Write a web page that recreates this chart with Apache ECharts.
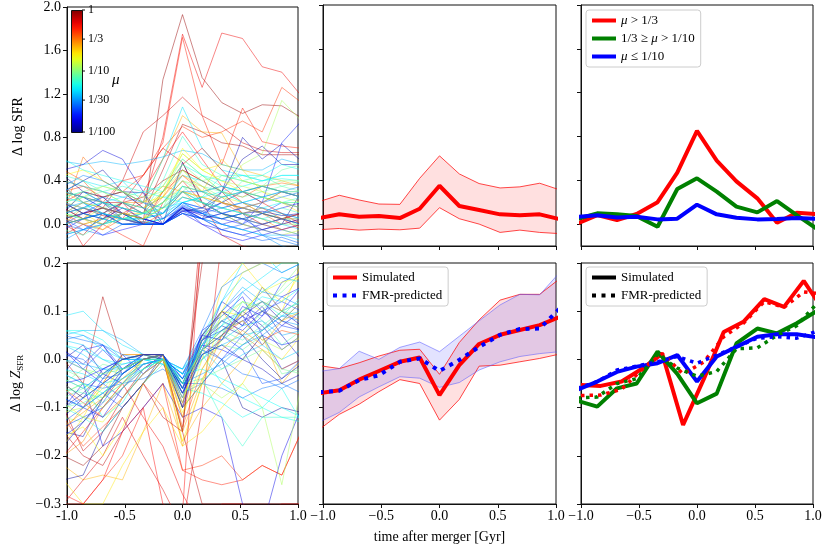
<!DOCTYPE html>
<html><head><meta charset="utf-8">
<script src="https://cdn.jsdelivr.net/npm/echarts@6/dist/echarts.min.js"></script>
<style>html,body{margin:0;padding:0;background:#fff}#c{width:830px;height:554px}</style>
</head><body><div id="c"></div>
<script>
const FONT = 'Liberation Serif';

// time grid (Gyr after merger)
const times    = [-1.03, -0.86, -0.69, -0.52, -0.34, -0.17, 0.0, 0.17, 0.34, 0.52, 0.69, 0.86, 1.03];
const timesRed = [-1.00, -0.83, -0.65, -0.47, -0.30, -0.12, 0.06, 0.23, 0.40, 0.58, 0.75, 0.92, 1.10];

// tick labels
const xLabelsHyphen = ['-1.0', '-0.5', '0.0', '0.5', '1.0'];
const xLabelsMinus  = ['\u22121.0', '\u22120.5', '0.0', '0.5', '1.0'];
const sfrTicks = [0.0, 0.4, 0.8, 1.2, 1.6, 2.0];
const sfrTickLabels = ['0.0', '0.4', '0.8', '1.2', '1.6', '2.0'];
const zTicks = [-0.3, -0.2, -0.1, 0.0, 0.1, 0.2];
const zTickLabels = ['\u22120.3', '\u22120.2', '\u22120.1', '0.0', '0.1', '0.2'];
const cbarTicks = [1, 1/3, 1/10, 1/30, 1/100];
const cbarLabels = ['1', '1/3', '1/10', '1/30', '1/100'];

// individual galaxies: mass ratio mu and Delta log SFR
const sfrMu = [0.9,0.6,0.5,0.45,0.7,0.8,0.55,0.65,0.4,0.35,0.25,0.2,0.12,0.05,0.04,0.07,0.015,0.013,0.02,0.011,0.025,0.03,0.06,0.09,0.1,0.15,0.3,0.018,0.03,0.045,0.055,0.08,0.011,0.035,0.14,0.5,0.75,0.22,0.012,0.028,0.065,0.38,0.02,0.045,0.11,0.6,
  0.012,0.016,0.019,0.024,0.033,0.038,0.042,0.05,0.058,0.07,0.075,0.085,0.095,0.13,0.16,0.18,0.028,0.014,0.06,0.032,0.027,0.1,0.28,0.045];
const sfrLines = [
 [0.10,0.15,0.08,0.05,0.02,1.33,1.93,1.35,1.12,1.02,1.10,1.09,0.98],
 [0.20,0.30,0.25,0.10,0.20,0.80,1.75,1.26,1.76,1.71,1.45,1.40,1.18],
 [0.00,0.05,0.20,0.40,0.45,0.75,1.72,1.00,0.55,1.07,0.76,0.72,0.70],
 [0.30,0.35,0.25,0.30,0.45,0.70,0.90,0.80,0.85,0.95,0.85,1.26,1.12],
 [0.05,0.10,0.15,0.40,0.85,1.00,1.17,1.00,0.90,0.75,0.68,0.66,0.66],
 [0.00,-0.10,0.10,0.20,0.10,0.50,0.92,0.85,0.75,0.72,0.64,0.64,0.64],
 [0.20,0.10,0.15,0.05,0.30,0.60,0.85,0.60,0.35,0.20,0.10,0.05,-0.05],
 [-0.10,0.00,0.05,0.20,0.45,0.70,0.57,0.20,-0.10,-0.20,-0.25,-0.30,-0.30],
 [0.50,0.40,0.20,0.15,0.10,0.30,0.45,0.30,0.20,0.15,0.10,0.00,0.05],
 [0.10,0.62,0.40,0.30,0.15,0.25,0.50,0.40,0.30,0.25,0.35,0.38,0.35],
 [0.30,0.20,0.25,0.30,0.20,0.60,1.00,0.85,0.84,0.50,0.45,0.40,0.35],
 [0.20,0.10,0.00,0.10,0.05,0.30,0.65,0.50,0.55,0.50,0.30,0.20,0.10],
 [0.15,0.25,0.20,0.15,0.10,0.30,0.60,0.45,0.30,0.55,0.65,1.14,0.95],
 [0.30,0.40,0.35,0.40,0.20,0.60,1.08,0.70,0.50,0.45,0.40,0.45,0.45],
 [0.58,0.55,0.58,0.55,0.58,0.62,0.68,0.65,0.55,0.50,0.50,0.60,0.55],
 [0.20,0.25,0.15,0.05,0.10,0.40,0.81,0.55,0.45,0.40,0.35,0.30,0.25],
 [0.50,0.55,0.68,0.60,0.30,0.05,0.15,0.10,0.00,-0.05,0.00,0.05,0.10],
 [0.10,0.30,0.20,0.05,0.00,0.00,0.15,0.05,0.30,0.80,0.60,0.74,0.58],
 [0.00,0.10,0.20,0.10,0.00,0.00,0.17,0.10,0.05,0.00,0.20,0.75,0.95],
 [0.45,0.30,0.25,0.30,0.29,0.00,0.57,0.20,0.10,0.00,-0.05,0.00,0.30],
 [0.35,0.20,0.10,0.05,0.00,0.00,0.12,0.05,-0.05,0.00,0.10,0.20,0.15],
 [-0.10,-0.05,0.05,0.10,0.00,0.00,0.18,0.12,0.05,0.10,-0.10,-0.15,-0.20],
 [0.10,0.05,0.10,0.05,0.02,0.05,0.25,0.20,0.15,0.10,0.05,0.10,0.05],
 [0.05,0.15,0.20,0.10,0.05,0.20,0.40,0.30,0.35,0.30,0.35,0.50,0.55],
 [0.35,0.20,0.15,0.20,0.15,0.25,0.30,0.45,0.30,0.20,0.15,0.10,-0.05],
 [0.40,0.35,0.30,0.20,0.15,0.30,0.50,0.30,0.25,0.20,0.10,0.05,0.00],
 [0.00,0.15,0.10,0.20,0.20,0.35,0.30,0.15,0.25,0.10,0.05,-0.05,-0.10],
 [0.05,0.00,-0.10,-0.05,0.00,0.00,0.10,0.00,-0.10,-0.15,-0.10,-0.05,0.00],
 [0.20,0.10,0.05,0.00,0.00,0.05,0.20,0.15,0.25,0.30,0.20,0.25,0.30],
 [0.00,0.05,0.00,0.05,0.05,0.10,0.30,0.20,0.10,0.05,0.00,-0.05,-0.10],
 [0.25,0.30,0.20,0.15,0.10,0.15,0.20,0.10,0.05,0.10,0.15,0.20,0.20],
 [-0.05,-0.10,0.00,0.10,0.05,0.10,0.35,0.30,0.20,0.40,0.45,0.35,0.40],
 [0.15,0.05,0.10,0.00,0.02,0.00,0.13,0.12,0.20,0.30,0.35,0.30,0.25],
 [-0.15,-0.05,0.05,0.00,0.00,0.00,0.16,0.10,0.00,-0.05,-0.10,-0.20,-0.25],
 [0.10,0.05,0.15,0.10,0.05,0.15,0.25,0.20,0.10,0.00,-0.05,-0.10,-0.05],
 [0.15,0.05,0.00,-0.10,-0.20,0.20,0.40,0.20,0.10,0.05,0.00,-0.05,0.00],
 [0.30,0.25,0.20,0.20,0.25,0.40,0.50,0.40,0.30,0.10,0.00,0.05,0.10],
 [0.00,0.05,-0.05,0.10,0.10,0.20,0.35,0.30,0.60,0.40,0.35,0.30,0.30],
 [0.30,0.40,0.50,0.30,0.15,0.00,0.12,0.15,0.30,0.60,0.72,0.55,0.55],
 [0.00,-0.05,0.00,0.10,0.05,0.00,0.14,0.05,0.10,0.15,0.10,0.05,0.05],
 [0.05,0.10,0.05,0.00,0.00,0.05,0.20,0.25,0.45,0.45,0.40,0.42,0.40],
 [0.10,0.00,-0.05,0.05,0.00,0.10,0.30,0.25,0.20,0.10,0.15,0.05,0.10],
 [0.20,0.15,0.25,0.10,0.05,0.00,0.15,0.05,0.00,0.05,-0.05,-0.10,-0.10],
 [0.10,0.20,0.05,0.10,0.00,0.00,0.10,0.05,0.00,-0.05,-0.10,-0.10,-0.15],
 [0.20,0.15,0.10,0.05,0.10,0.20,0.40,0.35,0.25,0.30,0.25,0.20,0.20],
 [0.10,-0.20,0.00,0.20,0.00,0.30,0.55,0.70,0.50,0.30,0.20,0.10,0.00],
 [0.05,0.10,0.15,0.10,0.00,0.00,0.15,0.08,0.05,0.10,0.12,0.08,0.10],
 [0.30,0.25,0.15,0.10,0.05,0.00,0.16,0.00,-0.05,-0.10,-0.05,0.00,0.05],
 [-0.05,0.05,0.10,0.00,0.00,0.00,0.12,0.10,0.20,0.15,0.10,0.15,0.20],
 [0.10,0.15,0.10,0.20,0.10,0.05,0.20,0.15,0.10,0.15,0.20,0.30,0.25],
 [0.40,0.35,0.30,0.25,0.20,0.10,0.25,0.20,0.10,0.05,0.00,0.05,0.00],
 [0.15,0.20,0.25,0.20,0.15,0.10,0.30,0.20,0.15,0.20,0.25,0.20,0.15],
 [-0.10,-0.05,0.00,0.05,0.05,0.10,0.20,0.25,0.15,0.10,0.05,0.00,-0.05],
 [0.25,0.20,0.10,0.05,0.10,0.20,0.45,0.40,0.30,0.20,0.25,0.30,0.30],
 [0.10,0.15,0.20,0.25,0.30,0.25,0.20,0.25,0.30,0.35,0.40,0.45,0.45],
 [0.45,0.40,0.30,0.35,0.30,0.35,0.60,0.45,0.35,0.30,0.25,0.20,0.25],
 [0.00,0.05,0.10,0.05,0.05,0.15,0.35,0.20,0.10,0.05,0.10,0.15,0.10],
 [0.20,0.25,0.30,0.20,0.10,0.15,0.50,0.35,0.30,0.25,0.30,0.35,0.30],
 [0.10,0.05,0.00,0.05,0.10,0.20,0.30,0.20,0.15,0.10,0.05,0.00,0.00],
 [0.30,0.25,0.35,0.30,0.20,0.35,0.65,0.50,0.40,0.35,0.30,0.25,0.20],
 [0.05,0.00,0.05,0.10,0.05,0.15,0.30,0.25,0.20,0.15,0.10,0.05,0.05],
 [0.45,0.50,0.40,0.30,0.20,0.25,0.70,0.50,0.40,0.30,0.25,0.20,0.15],
 [0.00,0.05,0.10,0.05,0.00,0.00,0.20,0.10,0.15,0.20,0.15,0.10,0.05],
 [0.20,0.10,0.05,0.15,0.05,0.00,0.10,0.05,0.10,0.05,0.10,0.05,0.00],
 [0.60,0.50,0.45,0.40,0.35,0.30,0.55,0.45,0.40,0.45,0.45,0.55,0.50],
 [0.35,0.45,0.40,0.30,0.20,0.15,0.30,0.30,0.35,0.30,0.25,0.30,0.35],
 [0.05,-0.05,-0.10,0.00,0.00,0.00,0.10,0.05,-0.05,-0.10,-0.15,-0.12,-0.18],
 [0.25,0.30,0.35,0.30,0.25,0.30,0.55,0.40,0.45,0.40,0.35,0.40,0.40],
 [0.10,0.20,0.15,0.10,0.05,0.25,0.45,0.35,0.20,0.15,0.20,0.30,0.25],
 [0.30,0.25,0.20,0.15,0.10,0.10,0.35,0.30,0.25,0.30,0.35,0.30,0.25]
];

// individual galaxies: mass ratio mu and Delta log Z_SFR
const zMu = [0.05,0.04,0.8,0.015,0.012,0.02,0.6,0.45,0.25,0.7,0.65,0.3,0.5,0.1,0.08,0.2,0.06,0.03,0.011,0.013,0.018,0.016,0.035,0.045,0.12,0.15,0.07,0.35,0.9,0.022,0.055,0.09,0.025,0.4,0.014,0.2,0.03,0.17,0.011,0.06,0.75,0.55,
  0.012,0.016,0.02,0.024,0.033,0.038,0.042,0.05,0.058,0.075,0.085,0.095,0.13,0.16,0.18,0.022,0.028,0.065,0.11,0.035,0.045,0.013,0.27,0.019];
const zLines = [
 [0.09,0.10,0.06,0.03,0.01,0.00,-0.02,0.05,0.12,0.20,0.22,0.18,0.20],
 [0.05,0.06,0.06,0.04,0.01,0.00,-0.03,0.04,0.10,0.15,0.12,0.10,0.12],
 [0.00,-0.05,0.13,0.00,0.01,0.01,-0.10,0.20,0.35,0.40,0.40,0.40,0.40],
 [-0.12,-0.08,-0.02,0.00,0.01,0.01,-0.06,0.02,0.06,0.08,0.10,0.08,0.12],
 [-0.15,-0.16,-0.08,-0.02,0.01,0.01,-0.09,0.01,0.04,0.10,0.07,0.02,0.05],
 [-0.03,0.02,0.03,-0.02,0.01,0.01,-0.05,0.03,0.10,0.07,0.15,0.10,0.15],
 [-0.20,-0.15,-0.10,-0.05,-0.12,-0.18,-0.28,-0.35,-0.30,-0.30,-0.32,-0.30,-0.30],
 [-0.12,-0.18,-0.14,-0.10,-0.05,-0.10,-0.23,-0.22,-0.20,-0.25,-0.22,-0.24,-0.15],
 [-0.22,-0.25,-0.24,-0.25,-0.15,-0.05,-0.17,-0.10,-0.05,0.00,0.05,-0.05,0.00],
 [-0.10,-0.19,-0.15,-0.08,-0.02,0.01,-0.15,0.30,0.35,0.40,0.40,0.40,0.40],
 [-0.30,-0.25,-0.20,-0.12,-0.20,-0.27,-0.35,-0.10,0.25,0.30,0.30,0.30,0.30],
 [-0.20,-0.17,-0.10,-0.05,0.00,0.01,-0.18,-0.05,0.05,0.10,0.12,0.10,0.08],
 [-0.30,-0.30,-0.25,-0.20,-0.10,-0.05,-0.23,-0.25,-0.26,-0.25,-0.22,-0.24,-0.15],
 [-0.05,-0.02,-0.04,0.00,0.01,0.01,-0.05,0.05,0.08,0.05,0.10,0.15,0.20],
 [-0.08,-0.06,-0.03,0.00,0.01,0.00,-0.08,0.00,0.05,0.12,0.08,0.03,0.06],
 [-0.18,-0.12,-0.05,0.01,0.01,0.00,-0.12,0.00,0.15,0.20,0.15,0.10,0.20],
 [0.06,0.06,0.04,0.00,0.00,-0.01,-0.04,0.01,-0.05,-0.08,-0.10,-0.12,-0.13],
 [-0.03,-0.05,-0.06,-0.05,-0.04,-0.02,-0.05,-0.05,-0.06,-0.08,-0.06,-0.05,-0.07],
 [-0.25,-0.24,-0.15,-0.10,-0.05,0.01,-0.10,-0.05,0.00,-0.10,-0.12,-0.10,-0.11],
 [0.00,0.03,-0.03,-0.05,-0.01,0.00,-0.03,0.05,0.10,0.07,0.11,0.05,0.00],
 [-0.06,-0.10,-0.04,0.01,-0.03,0.01,-0.08,0.06,0.09,0.13,0.05,-0.02,0.00],
 [-0.10,-0.05,-0.18,-0.15,-0.10,-0.05,-0.12,-0.10,-0.12,-0.30,-0.35,-0.20,-0.10],
 [-0.10,-0.08,-0.05,-0.02,0.00,-0.01,-0.07,-0.05,0.00,0.03,0.05,0.08,0.07],
 [0.03,0.01,-0.02,-0.03,0.00,0.00,-0.03,0.02,-0.02,0.01,0.03,0.00,0.02],
 [-0.12,-0.13,-0.08,-0.05,0.00,0.01,-0.10,-0.05,-0.08,-0.05,-0.10,-0.26,-0.05],
 [-0.05,-0.08,-0.10,-0.06,0.00,0.01,-0.06,0.04,0.08,0.12,0.10,0.08,0.12],
 [-0.10,-0.12,-0.15,-0.10,-0.05,-0.01,-0.05,-0.04,-0.12,-0.18,-0.12,-0.12,-0.12],
 [-0.15,-0.10,-0.05,0.01,0.01,0.01,-0.12,0.05,0.10,0.05,0.02,-0.02,0.00],
 [-0.20,-0.22,-0.18,-0.10,-0.05,0.00,-0.15,0.25,0.30,0.30,0.30,0.30,0.30],
 [0.00,-0.02,0.02,-0.02,0.00,0.01,-0.06,0.03,0.00,0.05,0.09,0.16,0.18],
 [0.06,0.05,0.02,0.00,0.00,-0.01,-0.02,0.03,0.06,0.10,0.13,0.12,0.15],
 [-0.02,-0.04,-0.01,-0.02,0.00,0.00,-0.04,0.00,0.03,0.02,0.05,-0.03,-0.02],
 [-0.13,-0.10,-0.07,-0.10,-0.05,0.00,-0.07,0.02,0.05,0.02,-0.05,-0.04,0.00],
 [-0.06,-0.09,-0.12,-0.08,-0.03,0.00,-0.14,-0.02,0.05,0.08,0.04,0.06,0.05],
 [0.02,-0.01,0.03,-0.03,0.01,0.00,-0.10,0.02,0.12,0.09,0.06,0.10,0.07],
 [-0.25,-0.30,-0.30,-0.22,-0.15,-0.10,-0.18,-0.15,-0.10,-0.05,0.02,0.00,0.05],
 [0.05,0.04,0.03,0.00,0.00,0.00,-0.02,0.06,0.15,0.18,0.20,0.18,0.20],
 [-0.07,-0.05,-0.08,0.00,0.01,0.01,-0.17,-0.05,0.10,0.18,0.20,0.20,0.20],
 [-0.10,-0.07,-0.03,0.00,0.01,0.01,-0.05,0.04,0.07,0.05,0.00,-0.04,-0.01],
 [-0.07,-0.05,-0.12,-0.09,-0.02,0.00,-0.06,-0.07,-0.09,-0.12,-0.10,-0.06,-0.13],
 [-0.15,-0.20,-0.22,-0.15,-0.05,-0.12,-0.15,-0.30,-0.30,-0.30,-0.30,-0.30,-0.30],
 [-0.28,-0.30,-0.25,-0.15,-0.10,-0.30,-0.32,0.30,0.30,0.30,0.30,0.30,0.30],
 [-0.05,-0.08,-0.05,-0.02,0.00,0.01,-0.06,0.02,0.05,0.09,0.12,0.08,0.06],
 [-0.08,-0.10,-0.12,-0.06,-0.02,0.01,-0.07,0.04,0.08,0.06,0.10,0.07,0.10],
 [0.02,-0.02,-0.05,-0.08,-0.03,0.00,-0.05,0.03,0.02,0.00,0.05,0.03,0.04],
 [-0.14,-0.12,-0.10,-0.06,-0.01,0.00,-0.06,0.05,0.10,0.14,0.10,0.12,0.10],
 [0.04,0.05,0.03,0.01,0.00,0.00,-0.03,0.03,0.08,0.10,0.14,0.13,0.11],
 [-0.04,-0.06,-0.03,-0.01,0.00,0.00,-0.04,0.00,0.04,0.07,0.08,0.05,0.06],
 [0.00,-0.01,-0.02,-0.02,0.00,0.00,-0.03,0.01,0.03,0.05,0.06,0.09,0.10],
 [-0.02,-0.03,-0.05,-0.04,-0.02,0.00,-0.02,0.02,0.07,0.14,0.17,0.20,0.20],
 [0.03,0.02,0.00,-0.01,0.00,0.00,-0.03,-0.02,-0.04,-0.06,-0.08,-0.10,-0.12],
 [-0.06,-0.07,-0.08,-0.05,-0.02,0.00,-0.05,0.02,0.06,0.04,0.07,0.10,0.09],
 [-0.10,-0.09,-0.07,-0.04,-0.01,0.00,-0.06,0.03,0.09,0.12,0.11,0.14,0.18],
 [-0.04,-0.06,-0.09,-0.06,-0.02,0.00,-0.07,-0.04,-0.02,0.00,0.02,-0.02,-0.03],
 [-0.11,-0.10,-0.06,-0.02,0.00,0.01,-0.08,0.02,0.06,0.08,0.04,0.02,0.05],
 [-0.09,-0.12,-0.13,-0.08,-0.03,0.00,-0.11,-0.02,0.04,0.10,0.14,0.16,0.17],
 [-0.16,-0.14,-0.20,-0.14,-0.05,0.00,-0.09,0.04,0.10,0.09,0.15,0.12,0.18],
 [-0.16,-0.13,-0.09,-0.03,0.00,0.01,-0.06,0.04,0.06,0.09,0.03,0.07,0.06],
 [0.01,0.00,-0.04,-0.03,0.00,0.01,-0.04,0.02,0.00,-0.03,-0.04,-0.06,-0.04],
 [-0.03,-0.05,-0.07,-0.03,0.00,0.01,-0.05,0.03,0.07,0.10,0.12,0.09,0.13],
 [0.00,-0.02,-0.03,-0.02,0.00,0.00,-0.05,0.02,0.05,0.03,0.06,0.10,0.12],
 [-0.08,-0.10,-0.07,-0.04,-0.01,0.00,-0.05,-0.03,-0.01,0.03,0.06,0.09,0.08],
 [0.04,0.03,0.00,-0.02,-0.01,0.00,-0.04,0.04,0.12,0.17,0.14,0.17,0.16],
 [-0.18,-0.13,-0.08,-0.03,0.00,0.01,-0.07,0.01,0.03,0.00,-0.02,-0.05,-0.03],
 [-0.14,-0.11,-0.08,-0.04,0.00,0.01,-0.15,-0.04,0.02,0.06,0.03,0.08,0.10],
 [-0.05,-0.04,-0.02,0.00,0.01,0.01,-0.04,0.05,0.04,0.11,0.09,0.13,0.15]
];

// stacked median SFR with 16-84 band
const sfrMedian = [0.055,0.090,0.067,0.073,0.055,0.140,0.350,0.165,0.128,0.089,0.080,0.089,0.045];
const sfrUpper  = [0.207,0.263,0.220,0.183,0.180,0.418,0.623,0.458,0.370,0.330,0.340,0.373,0.313];
const sfrLower  = [-0.051,-0.040,-0.055,-0.046,-0.052,-0.037,0.150,0.049,0.000,-0.076,-0.055,-0.076,-0.087];

// SFR medians by mass-ratio bin
const sfrHigh = [0.005,0.082,0.037,0.092,0.200,0.470,0.850,0.580,0.390,0.235,0.012,0.104,0.090];
const sfrMid  = [0.048,0.098,0.089,0.073,-0.024,0.320,0.418,0.296,0.159,0.107,0.210,0.082,-0.040];
const sfrLow  = [0.066,0.080,0.061,0.067,0.043,0.049,0.177,0.089,0.058,0.043,0.046,0.055,0.049];

// metallicity: simulated vs FMR-predicted, with bands
const zSim      = [-0.070,-0.064,-0.042,-0.024,-0.005,0.004,-0.074,-0.012,0.032,0.051,0.061,0.071,0.088];
const zFmr      = [-0.068,-0.065,-0.043,-0.033,-0.005,0.002,-0.024,-0.001,0.026,0.051,0.063,0.064,0.105];
const zSimUpper = [-0.013,-0.019,-0.007,0.007,0.019,0.021,-0.031,0.035,0.082,0.123,0.135,0.135,0.167];
const zSimLower = [-0.145,-0.114,-0.093,-0.067,-0.042,-0.050,-0.126,-0.083,-0.014,-0.012,-0.005,0.002,0.011];
const zFmrUpper = [-0.025,-0.019,0.017,0.000,0.025,0.036,0.016,0.048,0.080,0.113,0.135,0.134,0.180];
const zFmrLower = [-0.130,-0.110,-0.078,-0.057,-0.036,-0.039,-0.058,-0.048,-0.022,-0.005,0.006,0.012,0.016];

// metallicity by mass-ratio bin (high bin on its own time grid)
const zHighSim = [-0.053,-0.055,-0.046,-0.019,0.012,-0.136,-0.040,0.057,0.078,0.125,0.109,0.163,0.098];
const zHighFmr = [-0.075,-0.074,-0.062,-0.020,0.012,-0.030,-0.005,0.047,0.075,0.120,0.108,0.140,0.135];
const zMidSim  = [-0.086,-0.098,-0.060,-0.050,0.016,-0.030,-0.091,-0.071,0.033,0.064,0.054,0.075,0.100];
const zMidFmr  = [-0.080,-0.078,-0.050,-0.040,0.010,-0.018,-0.035,-0.025,0.022,0.024,0.050,0.070,0.115];
const zLowSim  = [-0.063,-0.046,-0.026,-0.015,-0.008,0.009,-0.046,0.006,0.026,0.047,0.052,0.052,0.046];
const zLowFmr  = [-0.060,-0.046,-0.022,-0.014,-0.005,0.006,-0.008,0.009,0.026,0.044,0.047,0.044,0.058];

function pairs(xs, ys) { return xs.map((x, i) => [x, ys[i]]); }
function jet(mu) {
  const t = (Math.log10(mu) + 2) / 2;
  const c = v => Math.round(255 * Math.min(1, Math.max(0, v)));
  return 'rgb(' + c(1.5 - Math.abs(4 * t - 3)) + ',' + c(1.5 - Math.abs(4 * t - 2)) + ',' + c(1.5 - Math.abs(4 * t - 1)) + ')';
}

const chart = echarts.init(document.getElementById('c'), null, {renderer: 'canvas'});
const lab = {fontFamily: FONT, fontSize: 14, color: '#000'};

const gridsPos = [
  {left: 67, top: 5, width: 231, height: 241},
  {left: 323, top: 5, width: 233, height: 241},
  {left: 581, top: 5, width: 232, height: 241},
  {left: 67, top: 263, width: 231, height: 241},
  {left: 323, top: 263, width: 233, height: 241},
  {left: 581, top: 263, width: 232, height: 241}
];
const grid = gridsPos.map(g => Object.assign({show: true, borderColor: '#111', borderWidth: 1, backgroundColor: 'transparent'}, g));

function xAx(gi, labels, extra) {
  return Object.assign({
    type: 'value', gridIndex: gi, min: -1, max: 1, interval: 0.5,
    axisLine: {show: true, onZero: false, lineStyle: {color: '#111', width: 1}},
    axisTick: {show: true, inside: false, length: 4, lineStyle: {color: '#111'}},
    axisLabel: {show: !!labels, margin: 5, formatter: v => labels ? labels[Math.round((v + 1) / 0.5)] : '', ...lab},
    splitLine: {show: false}
  }, extra || {});
}
function yAx(gi, ticks, labels, lo, hi, extra) {
  return Object.assign({
    type: 'value', gridIndex: gi, min: lo, max: hi,
    axisLine: {show: true, onZero: false, lineStyle: {color: '#111', width: 1}},
    axisTick: {show: true, inside: false, length: 4, customValues: ticks, lineStyle: {color: '#111'}},
    axisLabel: {show: !!labels, margin: 6, customValues: ticks,
      formatter: v => { if (!labels) return ''; let k = 0, d = 1e9; ticks.forEach((t, i) => { if (Math.abs(t - v) < d) { d = Math.abs(t - v); k = i; } }); return labels[k]; }, ...lab},
    splitLine: {show: false}
  }, extra || {});
}

const xAxis = [
  xAx(0, null), xAx(1, null), xAx(2, null),
  xAx(3, xLabelsHyphen), xAx(4, xLabelsMinus, {name: 'time after merger [Gyr]', nameLocation: 'middle', nameGap: 26, nameTextStyle: lab}), xAx(5, xLabelsMinus)
];
const yAxis = [
  yAx(0, sfrTicks, sfrTickLabels, -0.2, 2.0, {name: '\u0394 log SFR', nameLocation: 'middle', nameRotate: 90, nameGap: 42, nameTextStyle: lab}),
  yAx(1, sfrTicks, null, -0.2, 2.0), yAx(2, sfrTicks, null, -0.2, 2.0),
  yAx(3, zTicks, zTickLabels, -0.3, 0.2, {name: '{n|\u0394 log }{z|Z}{s|SFR}', nameLocation: 'middle', nameRotate: 90, nameGap: 42,
    nameTextStyle: {...lab, rich: {n: {...lab}, z: {...lab, fontStyle: 'italic'}, s: {fontFamily: FONT, fontSize: 9, color: '#000', padding: [8, 0, 0, 0]}}}}),
  yAx(4, zTicks, null, -0.3, 0.2), yAx(5, zTicks, null, -0.3, 0.2)
];

const series = [];
const base = {type: 'line', symbol: 'none', silent: true, animation: false};
sfrMu.forEach((mu, i) => series.push({...base, xAxisIndex: 0, yAxisIndex: 0, data: pairs(times, sfrLines[i]), lineStyle: {color: jet(mu), width: 0.8, opacity: 0.6}}));
zMu.forEach((mu, i) => series.push({...base, xAxisIndex: 3, yAxisIndex: 3, data: pairs(times, zLines[i]), lineStyle: {color: jet(mu), width: 0.8, opacity: 0.6}}));

// shaded band between lower and upper percentile curves
function band(ax, xs, lo, up, fill) {
  series.push({type: 'custom', xAxisIndex: ax, yAxisIndex: ax, clip: true, silent: true, animation: false,
    data: xs.map((x, i) => [x, lo[i], up[i]]),
    encode: {x: 0, y: [1, 2]},
    renderItem: (params, api) => {
      if (params.dataIndex !== 0) return null;
      const pts = [];
      for (let i = 0; i < xs.length; i++) pts.push(api.coord([xs[i], lo[i]]));
      for (let i = xs.length - 1; i >= 0; i--) pts.push(api.coord([xs[i], up[i]]));
      return {type: 'polygon', shape: {points: pts}, style: {fill: fill}};
    }});
}
function edges(ax, lo, up, edge, op) {
  series.push({...base, xAxisIndex: ax, yAxisIndex: ax, data: pairs(times, lo), lineStyle: {color: edge, width: 0.9, opacity: op}});
  series.push({...base, xAxisIndex: ax, yAxisIndex: ax, data: pairs(times, up), lineStyle: {color: edge, width: 0.9, opacity: op}});
}
// panel 2
band(1, times, sfrLower, sfrUpper, 'rgba(255,0,0,0.12)');
edges(1, sfrLower, sfrUpper, '#ff0000', 0.8);
series.push({...base, xAxisIndex: 1, yAxisIndex: 1, data: pairs(times, sfrMedian), lineStyle: {color: '#ff0000', width: 4}});
// panel 3
series.push({...base, name: 'hi', xAxisIndex: 2, yAxisIndex: 2, data: pairs(times, sfrHigh), lineStyle: {color: '#ff0000', width: 4}, itemStyle: {color: '#ff0000'}});
series.push({...base, name: 'mid', xAxisIndex: 2, yAxisIndex: 2, data: pairs(times, sfrMid), lineStyle: {color: '#008000', width: 4}, itemStyle: {color: '#008000'}});
series.push({...base, name: 'lo', xAxisIndex: 2, yAxisIndex: 2, data: pairs(times, sfrLow), lineStyle: {color: '#0000ff', width: 4}, itemStyle: {color: '#0000ff'}});
// panel 5
band(4, times, zSimLower, zSimUpper, 'rgba(255,0,0,0.12)');
band(4, times, zFmrLower, zFmrUpper, 'rgba(0,0,255,0.11)');
edges(4, zSimLower, zSimUpper, '#ff0000', 0.8);
edges(4, zFmrLower, zFmrUpper, '#5555ff', 0.6);
series.push({...base, name: 'simA', xAxisIndex: 4, yAxisIndex: 4, data: pairs(times, zSim), lineStyle: {color: '#ff0000', width: 4}, itemStyle: {color: '#ff0000'}});
series.push({...base, name: 'fmrA', xAxisIndex: 4, yAxisIndex: 4, data: pairs(times, zFmr), lineStyle: {color: '#0000ff', width: 4, type: [4, 5.5], cap: 'butt'}, itemStyle: {color: '#0000ff'}});
// panel 6
series.push({...base, xAxisIndex: 5, yAxisIndex: 5, data: pairs(timesRed, zHighSim), lineStyle: {color: '#ff0000', width: 4}});
series.push({...base, xAxisIndex: 5, yAxisIndex: 5, data: pairs(times, zMidSim), lineStyle: {color: '#008000', width: 4}});
series.push({...base, xAxisIndex: 5, yAxisIndex: 5, data: pairs(times, zLowSim), lineStyle: {color: '#0000ff', width: 4}});
series.push({...base, xAxisIndex: 5, yAxisIndex: 5, data: pairs(timesRed, zHighFmr), lineStyle: {color: '#ff0000', width: 3.5, type: [3.5, 5]}});
series.push({...base, xAxisIndex: 5, yAxisIndex: 5, data: pairs(times, zMidFmr), lineStyle: {color: '#008000', width: 3.5, type: [3.5, 5]}});
series.push({...base, xAxisIndex: 5, yAxisIndex: 5, data: pairs(times, zLowFmr), lineStyle: {color: '#0000ff', width: 3.5, type: [3.5, 5]}});
series.push({...base, name: 'simK', xAxisIndex: 5, yAxisIndex: 5, data: [], lineStyle: {color: '#000', width: 4}, itemStyle: {color: '#000'}});
series.push({...base, name: 'fmrK', xAxisIndex: 5, yAxisIndex: 5, data: [], lineStyle: {color: '#000', width: 4, type: [4, 5.5]}, itemStyle: {color: '#000'}});

const legendNames = {hi: '{i|\u03bc} > 1/3', mid: '1/3 \u2265 {i|\u03bc} > 1/10', lo: '{i|\u03bc} \u2264 1/10', simA: 'Simulated', fmrA: 'FMR-predicted', simK: 'Simulated', fmrK: 'FMR-predicted'};
const legBase = {orient: 'vertical', itemWidth: 24, itemHeight: 10, itemGap: 5, selectedMode: false,
  formatter: n => legendNames[n], lineStyle: {width: 4},
  itemStyle: {color: 'rgba(0,0,0,0)', borderWidth: 0, opacity: 0},
  textStyle: {fontFamily: FONT, fontSize: 13, color: '#000', rich: {i: {fontFamily: FONT, fontSize: 13, fontStyle: 'italic', color: '#000'}}},
  backgroundColor: 'rgba(255,255,255,0.85)', borderColor: '#cccccc', borderWidth: 1, borderRadius: 3, padding: [4, 6, 4, 4]};
const legend = [
  {...legBase, left: 586, top: 10, data: ['hi', 'mid', 'lo']},
  {...legBase, left: 327, top: 267, data: ['simA', 'fmrA']},
  {...legBase, left: 586, top: 267, data: ['simK', 'fmrK']}
];

// colour bar for mu
const cbX = 71, cbY = 10, cbW = 11, cbH = 122;
const stops = [];
for (let s = 0; s <= 20; s++) stops.push({offset: s / 20, color: jet(Math.pow(10, -2 * s / 20))});
const graphic = [
  {type: 'rect', left: cbX, top: cbY, shape: {width: cbW, height: cbH}, style: {fill: new echarts.graphic.LinearGradient(0, 0, 0, 1, stops), stroke: '#111', lineWidth: 1}, z: 100}
];
cbarTicks.forEach((m, i) => {
  const y = cbY + cbH * (-Math.log10(m)) / 2;
  graphic.push({type: 'line', shape: {x1: cbX + cbW, y1: y, x2: cbX + cbW + 3, y2: y}, style: {stroke: '#111', lineWidth: 1}, z: 100});
  graphic.push({type: 'text', x: cbX + cbW + 6, y: y, style: {text: cbarLabels[i], fontFamily: FONT, fontSize: 12, fill: '#000', verticalAlign: 'middle'}, z: 100});
});
graphic.push({type: 'text', x: 112, y: 80, style: {text: '\u03bc', fontFamily: FONT, fontSize: 15, fontStyle: 'italic', fill: '#000', verticalAlign: 'middle'}, z: 100});

chart.setOption({animation: false, grid, xAxis, yAxis, series, legend, graphic});
</script></body></html>
